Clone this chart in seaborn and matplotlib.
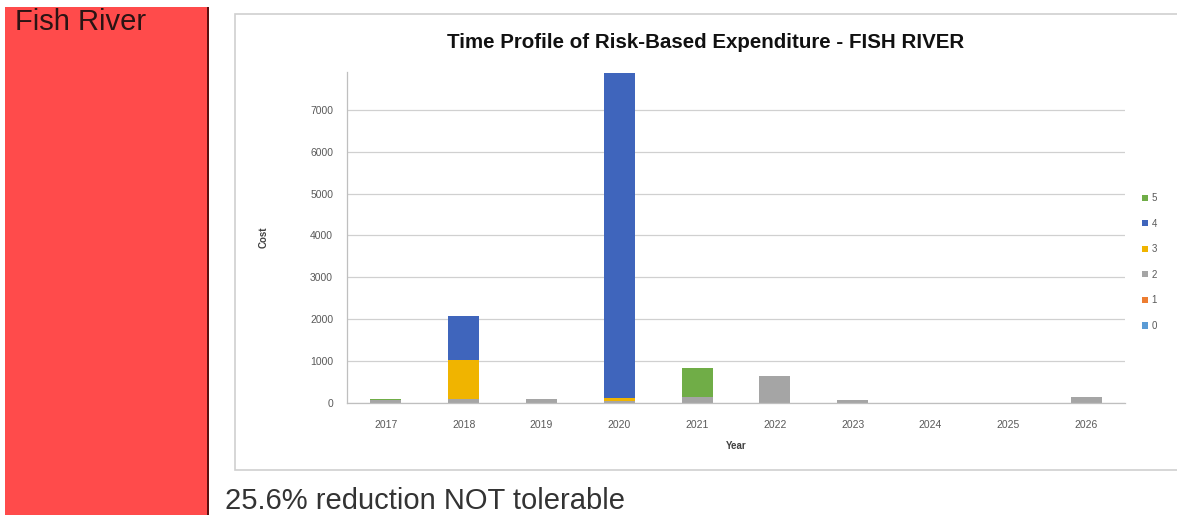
import matplotlib
matplotlib.use("Agg")
import matplotlib.pyplot as plt
from matplotlib.patches import Rectangle
import numpy as np
import pandas as pd
import seaborn as sns

years = ["2017", "2018", "2019", "2020", "2021", "2022", "2023", "2024", "2025", "2026"]
series_names = ["0", "1", "2", "3", "4", "5"]
cost_0 = [0, 0, 0, 0, 0, 0, 0, 0, 0, 0]
cost_1 = [0, 0, 0, 0, 0, 0, 0, 0, 0, 0]
cost_2 = [70, 100, 90, 40, 150, 645, 70, 0, 0, 150]
cost_3 = [0, 930, 0, 70, 0, 0, 0, 0, 0, 0]
cost_4 = [0, 1040, 0, 7770, 0, 0, 0, 0, 0, 0]
cost_5 = [20, 0, 0, 0, 690, 0, 0, 0, 0, 0]
series_values = [cost_0, cost_1, cost_2, cost_3, cost_4, cost_5]
colors = ["#5B9BD5", "#ED7D31", "#A5A5A5", "#F0B400", "#3F65BC", "#70AD47"]

sns.set_theme(style="white")
plt.rcParams["font.family"] = ["Liberation Sans", "DejaVu Sans"]

W, H = 1177, 515
fig = plt.figure(figsize=(W / 100, H / 100), dpi=100)

# left red panel
fig.patches.append(Rectangle((5 / W, 0), (203 / W), 1 - 7 / H, transform=fig.transFigure,
                             facecolor="#FF4B4B", edgecolor="none", zorder=-2))
fig.patches.append(Rectangle((207 / W, 0), 2 / W, 1 - 7 / H, transform=fig.transFigure,
                             facecolor="#5a1010", edgecolor="none", zorder=-2))
# chart box
fig.patches.append(Rectangle((235 / W, 1 - 470 / H), (W - 235 + 5) / W, (470 - 14) / H,
                             transform=fig.transFigure, facecolor="white",
                             edgecolor="#cfcfcf", linewidth=1.2, zorder=-2))

fig.text(15 / W, 1 - 22 / H, "Fish River", fontsize=21, color="#2a1414",
         va="center", ha="left")
fig.text(225 / W, 1 - 501 / H, "25.6% reduction NOT tolerable", fontsize=21,
         color="#333333", va="center", ha="left")

ax = fig.add_axes([347 / W, 1 - 403 / H, (1125 - 347) / W, (403 - 72) / H])
ax.set_facecolor("none")

df = pd.DataFrame({"Year": years})
bottom = np.zeros(len(years))
for name, vals, col in zip(series_names, series_values, colors):
    df["v"] = vals
    sns.barplot(data=df, x="Year", y="v", color=col, bottom=bottom, width=0.4,
                label=name, ax=ax, saturation=1, edgecolor="none", linewidth=0)
    bottom = bottom + np.array(vals)

handles, labels = ax.get_legend_handles_labels()
if ax.get_legend() is not None:
    ax.get_legend().remove()

ax.set_xlim(-0.5, 9.5)
ax.set_ylim(0, 7900)
ax.set_yticks(range(0, 8000, 1000))
ax.yaxis.grid(True, color="#d0d0d0", linewidth=0.9)
ax.set_axisbelow(True)
for s in ["top", "right"]:
    ax.spines[s].set_visible(False)
for s in ["left", "bottom"]:
    ax.spines[s].set_color("#bfbfbf")
    ax.spines[s].set_linewidth(0.9)
ax.tick_params(axis="both", labelsize=7.5, colors="#595959", length=0)
ax.tick_params(axis="x", pad=12)
ax.tick_params(axis="y", pad=10)
ax.set_xticks(np.arange(-0.5, 10, 1), minor=True)
ax.tick_params(axis="x", which="minor", length=3, color="#bfbfbf", width=0.8)
ax.set_ylabel("Cost", fontsize=7, fontweight="bold", color="#404040", labelpad=30)
ax.set_xlabel("Year", fontsize=7, fontweight="bold", color="#404040", labelpad=8)

fig.text(706 / W, 1 - 42 / H, "Time Profile of Risk-Based Expenditure - FISH RIVER",
         fontsize=14.8, fontweight="bold", color="#111111", ha="center", va="center")

order = list(range(len(labels)))[::-1]
leg = fig.legend([handles[i] for i in order], [labels[i] for i in order],
                 loc="center left", bbox_to_anchor=(1138 / W, 1 - 262 / H),
                 frameon=False, fontsize=7, handlelength=0.6, handleheight=0.6,
                 handletextpad=0.4, labelspacing=1.6, borderaxespad=0)
for t in leg.get_texts():
    t.set_color("#595959")

fig.savefig("out.png", dpi=100)
